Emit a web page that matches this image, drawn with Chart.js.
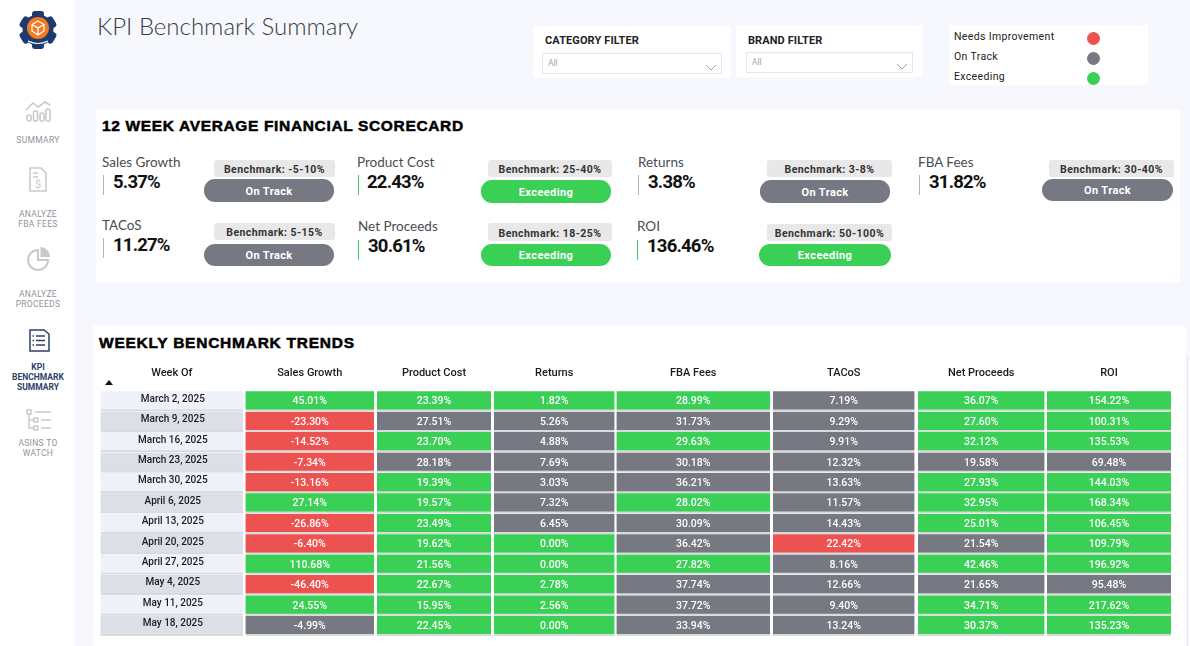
<!DOCTYPE html>
<html>
<head>
<meta charset="utf-8">
<title>KPI Benchmark Summary</title>
<script src="https://cdn.jsdelivr.net/npm/chart.js@4/dist/chart.umd.min.js"></script>
<style>
html, body { margin: 0; padding: 0; width: 1190px; height: 646px; overflow: hidden; background: #f6f8fd; }
#page { position: relative; width: 1190px; height: 646px; overflow: hidden; font-family: Roboto, sans-serif; color: #1b1b1f; }
.box, .txt, svg, canvas { position: absolute; }
.box { box-sizing: border-box; }
.txt { white-space: nowrap; line-height: 1; }
</style>
</head>
<body>
<div id="page"></div>
<canvas id="tablaChart" width="1072" height="281" style="left:100px;top:356px;width:1072px;height:281px"></canvas>
<script>
// datos
const weeks = ["March 2, 2025", "March 9, 2025", "March 16, 2025", "March 23, 2025", "March 30, 2025", "April 6, 2025",
    "April 13, 2025", "April 20, 2025", "April 27, 2025", "May 4, 2025", "May 11, 2025", "May 18, 2025"];
const metrics = ["Sales Growth", "Product Cost", "Returns", "FBA Fees", "TACoS", "Net Proceeds", "ROI"];

const salesGrowth = [45.01, -23.30, -14.52, -7.34, -13.16, 27.14, -26.86, -6.40, 110.68, -46.40, 24.55, -4.99];
const productCost = [23.39, 27.51, 23.70, 28.18, 19.39, 19.57, 23.49, 19.62, 21.56, 22.67, 15.95, 22.45];
const returnsPct = [1.82, 5.26, 4.88, 7.69, 3.03, 7.32, 6.45, 0.00, 0.00, 2.78, 2.56, 0.00];
const fbaFees = [28.99, 31.73, 29.63, 30.18, 36.21, 28.02, 30.09, 36.42, 27.82, 37.74, 37.72, 33.94];
const tacos = [7.19, 9.29, 9.91, 12.32, 13.63, 11.57, 14.43, 22.42, 8.16, 12.66, 9.40, 13.24];
const netProceeds = [36.07, 27.60, 32.12, 19.58, 27.93, 32.95, 25.01, 21.54, 42.46, 21.65, 34.71, 30.37];
const roi = [154.22, 100.31, 135.53, 69.48, 144.03, 168.34, 106.45, 109.79, 196.92, 95.48, 217.62, 135.23];

const benchLow = [-5, 25, 3, 30, 5, 18, 50];
const benchHigh = [10, 40, 8, 40, 15, 25, 100];
const lowerIsBetter = [false, true, true, true, true, false, false];

const kpiNames = ["Sales Growth", "Product Cost", "Returns", "FBA Fees", "TACoS", "Net Proceeds", "ROI"];
const kpiValues = [5.37, 22.43, 3.38, 31.82, 11.27, 30.61, 136.46];

const statusNames = ["Needs Improvement", "On Track", "Exceeding"];

// colores y posiciones
const colores = { "Needs Improvement": "#ec5350", "On Track": "#767882", "Exceeding": "#39d055" };
const series = [salesGrowth, productCost, returnsPct, fbaFees, tacos, netProceeds, roi];

// x de cada columna, en pixeles del canvas + 100
const weekCol = [100.5, 243];
const colEdges = [[245.5, 374], [377, 491], [494, 614.5], [616.5, 770], [773, 914.5], [918, 1044.5], [1047, 1171]];

// labelX, labelY, barX, barY, valueX, valueY, chip x0 x1 y0 y1, pill x0 x1 y0 y1
const kpiLayout = [
    [102, 162, 103, 175, 113, 181.5, 214, 335, 160, 177, 204, 334, 179, 202],
    [357, 162, 357.5, 175, 367, 181.5, 488, 612, 160, 177, 481, 611, 180, 203],
    [638, 162, 638, 175, 648, 181.5, 767, 892, 160, 177, 760, 890, 180, 203],
    [918, 162, 919, 175, 929, 181.5, 1049, 1174, 160, 177, 1042, 1173, 179, 201],
    [102, 225, 103, 238, 113, 244.5, 214, 335, 223, 240, 204, 334, 244, 266],
    [358, 226, 358, 240, 368, 245.5, 488, 612, 223, 241, 481, 611, 244, 266],
    [637, 226, 637, 240, 647, 245.5, 767, 892, 224, 241, 759, 891, 244, 266]
];

function estado(valor, i){
    if(valor >= benchLow[i] && valor <= benchHigh[i]){
        return "On Track";
    }
    const arriba = valor > benchHigh[i];
    return arriba !== lowerIsBetter[i] ? "Exceeding" : "Needs Improvement";
}

const page = document.getElementById("page");

function caja(x0, y0, x1, y1, css){
    const d = document.createElement("div");
    d.className = "box";
    d.style.cssText = `left:${x0}px;top:${y0}px;width:${x1 - x0}px;height:${y1 - y0}px;${css || ""}`;
    page.appendChild(d);
    return d;
}

// texto con centro vertical en cy; centrado si center es true
function texto(str, x, cy, css, center){
    const d = document.createElement("div");
    d.className = "txt";
    d.textContent = str;
    d.style.cssText = `left:${x}px;top:${cy}px;transform:translate(${center ? "-50%" : "0"},-50%);${css || ""}`;
    page.appendChild(d);
}

function svg(x, y, w, h, inner){
    page.insertAdjacentHTML("beforeend",
        `<svg style="left:${x}px;top:${y}px" width="${w}" height="${h}" viewBox="0 0 ${w} ${h}">${inner}</svg>`);
}

// fondos
caja(0, 0, 74, 646, "background:#fff");
caja(96, 110, 1180, 282, "background:#fff");
caja(93, 326, 1186, 646, "background:#fff");
caja(1187, 356, 1188, 646, "background:#e6e8ee");

// titulo
texto("KPI Benchmark Summary", 97, 25, "font:300 24px Lato;color:#3a3d42");

// filtros
function filtro(x0, x1, titulo, y0, y1, bx0, bx1, by0, by1, tx){
    caja(x0, y0, x1, y1, "background:#fff");
    texto(titulo, tx, 39.5, "font:700 11px Roboto;color:#222;letter-spacing:.1px");
    caja(bx0, by0, bx1, by1, "background:#fff;border:1px solid #e4e6ea");
    texto("All", bx0 + 6, (by0 + by1) / 2 - 1, "font:400 8.5px Roboto;color:#a2a6ad");
    svg(bx1 - 17, (by0 + by1) / 2, 12, 7, '<path d="M1 1 L6 6 L11 1" fill="none" stroke="#9ea2aa" stroke-width="1"/>');
}
filtro(533, 731, "CATEGORY FILTER", 26, 78, 542, 722, 53, 74, 545);
filtro(736, 923, "BRAND FILTER", 25, 77, 746, 913, 52, 73, 748);

// leyenda de estados
caja(949, 25, 1148, 85, "background:#fff");
statusNames.forEach((s, i) => {
    const y = [36, 56, 76][i];
    texto(s, 954, y, "font:400 10.5px Roboto;color:#222;letter-spacing:.35px");
    caja(1086.5, y - 5.5 + 1, 1099.5, y + 7.5 + 1, `background:${colores[s]};border-radius:50%`);
});

// scorecard
texto("12 WEEK AVERAGE FINANCIAL SCORECARD", 102, 125.5,
    "font:700 15.5px 'Liberation Sans';color:#000;letter-spacing:.65px;-webkit-text-stroke:.5px #000");

kpiNames.forEach((nombre, i) => {
    const p = kpiLayout[i];
    const st = estado(kpiValues[i], i);
    const bench = "Benchmark: " + benchLow[i] + "-" + benchHigh[i] + "%";
    texto(nombre, p[0], p[1], "font:400 13.5px Lato;color:#4a4c50");
    caja(p[2], p[3], p[2] + 1, p[3] + 20, `background:${st === "Exceeding" ? colores[st] : "#b2b4b8"}`);
    texto(kpiValues[i].toFixed(2) + "%", p[4], p[5], "font:700 18.5px Roboto;color:#111;letter-spacing:-.8px");
    caja(p[6], p[8], p[7], p[9], "background:#e8e8e9;border-radius:3px");
    texto(bench, (p[6] + p[7]) / 2, (p[8] + p[9]) / 2 + 0.5, "font:700 10.5px Roboto;color:#333;letter-spacing:.45px", true);
    caja(p[10], p[12], p[11], p[13], `background:${colores[st]};border-radius:11px`);
    texto(st, (p[10] + p[11]) / 2, (p[12] + p[13]) / 2, "font:700 11px Roboto;color:#fff;letter-spacing:.4px", true);
});

texto("WEEKLY BENCHMARK TRENDS", 99, 343,
    "font:700 15.5px 'Liberation Sans';color:#000;letter-spacing:.75px;-webkit-text-stroke:.5px #000");

// barra lateral
const gris = "#c8cacd";
svg(16, 8, 44, 44, `
    <g fill="#1f3a6e">
      <circle cx="22" cy="22" r="15.5"/>
      <rect x="16" y="3" width="12" height="38" rx="3"/>
      <rect x="16" y="3" width="12" height="38" rx="3" transform="rotate(60 22 22)"/>
      <rect x="16" y="3" width="12" height="38" rx="3" transform="rotate(120 22 22)"/>
    </g>
    <circle cx="22" cy="20" r="11" fill="#f27a21"/>
    <path d="M22 13 L28 16.5 V23 L22 27 L16 23 V16.5 Z M16 16.5 L22 20 L28 16.5 M22 20 V27" fill="none" stroke="#fff" stroke-width="1.3"/>
    <path d="M12 33 Q22 38 32 33" fill="none" stroke="#fff" stroke-width="1.2"/>`);
svg(24, 99, 28, 24, `
    <path d="M2 11 L9 4 L14 8 L21 3 L26 6" fill="none" stroke="${gris}" stroke-width="1.6"/>
    <g fill="none" stroke="${gris}" stroke-width="1.6">
      <rect x="3" y="16" width="4" height="6" rx="1.5"/><rect x="9.5" y="12" width="4" height="10" rx="1.5"/>
      <rect x="16" y="14" width="4" height="8" rx="1.5"/><rect x="22" y="10" width="4" height="12" rx="1.5"/>
    </g>`);
svg(28, 167, 20, 26, `
    <path d="M2 1 H13 L18 6 V24 H2 Z" fill="none" stroke="${gris}" stroke-width="1.6"/>
    <path d="M5 6 H10 M5 10 H10" stroke="${gris}" stroke-width="1.3"/>
    <text x="10" y="21" text-anchor="middle" font-family="Roboto" font-size="11" fill="${gris}">$</text>`);
svg(26, 245, 26, 26, `
    <path d="M12 5 A10 10 0 1 0 22 15 H12 Z" fill="none" stroke="${gris}" stroke-width="2"/>
    <path d="M14.5 2 A10 10 0 0 1 24 12 H14.5 Z" fill="${gris}"/>`);
svg(29, 329, 21, 23, `
    <path d="M1 1 H15 L20 5 V22 H1 Z" fill="none" stroke="#2f3f68" stroke-width="1.5"/>
    <path d="M7 7 H16 M7 11.5 H16 M7 16 H16" stroke="#2f3f68" stroke-width="1.4"/>
    <path d="M3.5 7 H5 M3.5 11.5 H5 M3.5 16 H5" stroke="#2f3f68" stroke-width="1.6"/>`);
svg(25, 408, 28, 24, `
    <g fill="none" stroke="${gris}" stroke-width="1.5">
      <rect x="2" y="2" width="4" height="4"/><rect x="9" y="10" width="4" height="4"/><rect x="9" y="18" width="4" height="4"/>
      <path d="M4 6 V20 H9 M4 12 H9 M10 4 H26 M16 12 H26 M16 20 H26"/>
    </g>`);

function nav(lineas, ys, css){
    lineas.forEach((l, i) => texto(l, 38, ys[i], "font:400 8.5px Roboto;color:#8f939b;letter-spacing:.3px;" + (css || ""), true));
}
nav(["SUMMARY"], [139.5]);
nav(["ANALYZE", "FBA FEES"], [213.5, 224]);
nav(["ANALYZE", "PROCEEDS"], [293.5, 303.5]);
nav(["KPI", "BENCHMARK", "SUMMARY"], [366.5, 376.5, 387], "font-weight:700;color:#2f3f68;letter-spacing:0");
nav(["ASINS TO", "WATCH"], [442.5, 453]);

// tabla: barras horizontales flotantes, una serie por columna
const colCentros = [(weekCol[0] + weekCol[1]) / 2].concat(colEdges.map(c => (c[0] + c[1]) / 2));
const colTitulos = ["Week Of"].concat(metrics);

const datasets = [{
    label: "Week Of",
    data: weeks.map(w => ({ x: weekCol, y: w })),
    backgroundColor: weeks.map((w, i) => i % 2 ? "#dcdfe6" : "#eef1f8")
}];

metrics.forEach((m, c) => {
    datasets.push({
        label: m,
        data: weeks.map((w, i) => ({ x: colEdges[c], y: w, value: series[c][i] })),
        backgroundColor: series[c].map(v => colores[estado(v, c)])
    });
});

const textoCeldas = {
    id: "textoCeldas",
    afterDatasetsDraw(chart){
        const ctx = chart.ctx;
        ctx.save();
        ctx.font = "500 10.5px Roboto";
        ctx.fillStyle = "#fff";
        ctx.textAlign = "center";
        ctx.textBaseline = "middle";
        chart.data.datasets.forEach((ds, d) => {
            if(d === 0) return;
            chart.getDatasetMeta(d).data.forEach((bar, i) => {
                const cp = bar.getCenterPoint();
                ctx.fillText(ds.data[i].value.toFixed(2) + "%", cp.x, cp.y + 0.5);
            });
        });
        ctx.restore();
    }
};

new Chart(document.getElementById("tablaChart"), {
    type: "bar",
    data: { labels: weeks, datasets: datasets },
    plugins: [textoCeldas],
    options: {
        indexAxis: "y",
        responsive: false,
        animation: false,
        layout: { padding: { bottom: 1 } },
        datasets: {
            bar: {
                grouped: false,
                barThickness: 20,
                borderSkipped: false,
                borderWidth: { bottom: 2 },
                borderColor: "#d9dade"
            }
        },
        scales: {
            x: {
                type: "linear",
                position: "top",
                min: 100,
                max: 1172,
                afterBuildTicks: function(scale){
                    scale.ticks = colCentros.map(v => ({ value: v }));
                },
                afterFit: function(scale){
                    scale.height = 35;
                },
                grid: { display: false, drawTicks: false },
                border: { display: false },
                ticks: {
                    autoSkip: false,
                    maxRotation: 0,
                    padding: 11,
                    color: "#1b1b1f",
                    font: { family: "Roboto", size: 11, weight: "500" },
                    callback: function(value, index){
                        return colTitulos[index];
                    }
                }
            },
            y: {
                type: "category",
                labels: weeks,
                afterFit: function(scale){
                    scale.width = 0;
                    scale.paddingTop = 0;
                    scale.paddingBottom = 0;
                },
                grid: { display: false, drawTicks: false },
                border: { display: false },
                ticks: {
                    mirror: true,
                    crossAlign: "center",
                    padding: 38,
                    z: 1,
                    labelOffset: -2,
                    autoSkip: false,
                    color: "#1b1b1f",
                    font: { family: "Roboto", size: 10, weight: "500" }
                }
            }
        },
        plugins: {
            legend: { display: false },
            title: { display: false },
            tooltip: { enabled: false }
        }
    }
});

// flecha de orden
caja(105, 380, 105, 380, "border-left:4.5px solid transparent;border-right:4.5px solid transparent;border-bottom:5px solid #111;width:0;height:0");
</script>
</body>
</html>
